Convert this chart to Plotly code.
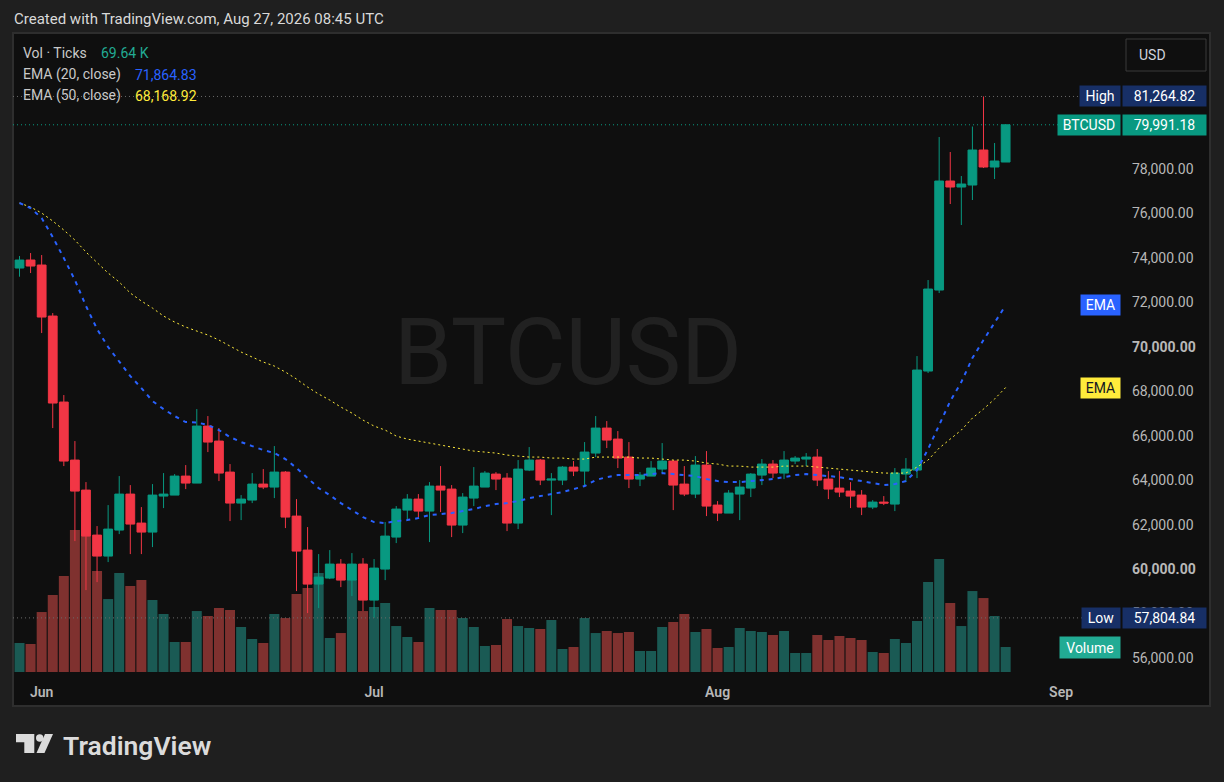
import pandas as pd
import plotly.graph_objects as go

# daily BTCUSD candles, 30 May - 27 Aug 2026
dates = pd.date_range("2026-05-30", periods=90, freq="D")

opens = [73545, 73905, 73680, 71385, 67515, 64905, 63555, 61530, 60585, 61755,
         63375, 62070, 61665, 63285, 63330, 64185, 63870, 66435, 65760, 64365,
         62970, 63105, 63825, 63690, 64365, 62385, 60855, 59325, 59595, 60225,
         59505, 60225, 58605, 60000, 61440, 62655, 63150, 62610, 63735, 63600,
         61980, 63195, 63690, 64275, 64095, 62070, 64455, 64905, 64005, 64005,
         64590, 64410, 65220, 66345, 65850, 65040, 64050, 64185, 64500, 64860,
         63825, 63375, 64680, 62880, 62520, 63375, 63645, 64230, 64725, 64320,
         64860, 64950, 65040, 64050, 63645, 63510, 63330, 62790, 63015, 62925,
         64275, 64455, 68910, 72555, 77460, 77190, 77280, 78855, 78090, 78315]
highs = [74085, 74220, 74130, 71520, 67830, 65760, 63915, 61935, 62880, 64185,
         63780, 62790, 63825, 64320, 64275, 64680, 67200, 66885, 66345, 64725,
         63330, 64320, 64500, 65535, 64410, 63150, 61890, 60675, 60855, 60450,
         60720, 60495, 60450, 62115, 62835, 63375, 63375, 63915, 64635, 63780,
         63420, 64590, 64410, 64365, 64320, 64905, 65490, 64950, 64320, 64635,
         64860, 65715, 66885, 66660, 66210, 65715, 64365, 64860, 65670, 64905,
         64635, 65085, 65310, 63060, 63555, 64005, 64320, 64950, 64905, 65310,
         65085, 65220, 65400, 64410, 64410, 63915, 63555, 63105, 63285, 64545,
         64995, 69585, 73005, 79440, 78765, 77685, 79912, 81264.82, 79170, 79991.18]
lows = [73155, 73320, 70620, 66345, 64635, 61260, 59055, 59415, 60315, 61575,
        60675, 60675, 60990, 62745, 63330, 63600, 63870, 65265, 63960, 62160,
        62205, 62970, 63600, 63195, 61845, 59010, 58020, 58245, 59550, 59190,
        58785, 58110, 57804.84, 59505, 61170, 62205, 62340, 61215, 62565, 61440,
        61620, 62835, 63690, 63555, 61710, 61800, 64410, 63780, 62430, 63780,
        64185, 63690, 65040, 65445, 64545, 63645, 63735, 64185, 64320, 62655,
        63285, 63195, 62385, 62160, 62520, 62205, 63240, 63780, 64095, 64050,
        64725, 64635, 63735, 63150, 63240, 62745, 62430, 62700, 62880, 62610,
        63915, 64095, 68820, 72420, 76425, 75480, 76605, 78045, 77550, 78315]
closes = [73905, 73635, 71340, 67470, 64860, 63510, 61485, 60585, 61800, 63375,
          62025, 61665, 63330, 63375, 64185, 63870, 66435, 65715, 64320, 62970,
          63150, 63825, 63690, 64365, 62340, 60810, 59325, 59640, 60225, 59505,
          60225, 58605, 60045, 61485, 62700, 63150, 62610, 63735, 63555, 61980,
          63240, 63735, 64320, 64050, 62070, 64500, 64905, 64005, 64050, 64590,
          64410, 65265, 66345, 65805, 64995, 64050, 64230, 64545, 64860, 63780,
          63375, 64680, 62835, 62520, 63420, 63690, 64275, 64725, 64320, 64905,
          64995, 65040, 64005, 63600, 63465, 63285, 62790, 63015, 62970, 64320,
          64500, 68955, 72600, 77460, 77190, 77325, 78855, 78090, 78360, 79991.18]

# tick volume, thousands
volumes = [80.8, 78.0, 167.1, 214.5, 267.4, 395.6, 445.7, 281.3, 203.3, 275.8,
           239.6, 256.3, 200.6, 161.6, 83.6, 83.6, 169.9, 156.0, 178.3, 172.7,
           125.4, 91.9, 80.8, 161.6, 150.4, 217.3, 234.0, 275.8, 94.7, 108.6,
           259.1, 169.9, 181.1, 192.2, 128.1, 97.5, 83.6, 178.3, 172.7, 172.7,
           150.4, 125.4, 72.4, 75.2, 147.6, 128.1, 122.6, 119.8, 144.9, 64.1,
           69.6, 150.4, 108.6, 114.2, 108.6, 111.4, 58.5, 58.5, 125.4, 139.3,
           161.6, 111.4, 119.8, 66.9, 69.6, 122.6, 114.2, 111.4, 103.1, 114.2,
           52.9, 52.9, 103.1, 89.1, 100.3, 94.7, 89.1, 55.7, 52.9, 91.9,
           80.8, 142.1, 250.7, 314.8, 192.2, 128.1, 225.6, 206.1, 156.0, 69.64]

ema20 = [76470, 76245, 75795, 74940, 73995, 73005, 71835, 70800, 69990, 69315,
         68685, 68145, 67560, 67200, 66885, 66615, 66600, 66480, 66255, 65940,
         65715, 65535, 65355, 65220, 64950, 64545, 64095, 63645, 63330, 62970,
         62655, 62340, 62115, 62070, 62160, 62205, 62295, 62430, 62475, 62520,
         62610, 62700, 62835, 62925, 62970, 63060, 63195, 63285, 63375, 63465,
         63600, 63735, 64005, 64140, 64230, 64230, 64230, 64275, 64320, 64275,
         64230, 64185, 64050, 63960, 63915, 63915, 63960, 64005, 64050, 64140,
         64230, 64275, 64230, 64185, 64140, 64050, 63960, 63870, 63780, 63825,
         63960, 64455, 65400, 66480, 67560, 68415, 69495, 70305, 71115, 71864.83]
ema50 = [76470, 76290, 76020, 75660, 75255, 74805, 74265, 73770, 73320, 72915,
         72420, 72060, 71745, 71385, 71115, 70890, 70710, 70530, 70305, 70035,
         69765, 69540, 69315, 69135, 68865, 68550, 68190, 67875, 67605, 67290,
         67020, 66705, 66435, 66255, 65985, 65850, 65760, 65670, 65580, 65490,
         65400, 65310, 65265, 65220, 65130, 65085, 65040, 65040, 64995, 64995,
         64950, 64950, 65040, 65040, 65040, 65040, 64995, 64995, 64950, 64905,
         64905, 64860, 64770, 64725, 64635, 64635, 64590, 64590, 64590, 64635,
         64635, 64635, 64590, 64545, 64500, 64455, 64410, 64365, 64320, 64320,
         64320, 64590, 64905, 65445, 65850, 66255, 66795, 67200, 67650, 68168.92]

price_ticks = [56000, 58000, 60000, 62000, 64000, 66000, 68000, 70000, 72000, 74000, 76000, 78000]
month_ticks = ["2026-06-01", "2026-07-01", "2026-08-01", "2026-09-01"]
month_labels = ["Jun", "Jul", "Aug", "Sep"]

UP = "#089981"
DOWN = "#f23645"
BLUE = "#2962ff"
YELLOW = "#ffeb3b"
NAVY = "#172f66"
FONT = "Roboto"

# plot area in screen pixels
PL, PR, PT, PB = 13, 1120, 35, 672


def px(x):
    return (x - PL) / (PR - PL)


def py(y):
    return (PB - y) / (PB - PT)


vol_colors = ["rgba(38,166,154,0.5)" if c >= o else "rgba(239,83,80,0.5)" for o, c in zip(opens, closes)]

fig = go.Figure()

fig.add_trace(go.Bar(
    x=dates, y=volumes, marker_color=vol_colors, marker_line_width=0,
    yaxis="y", hoverinfo="skip", showlegend=False
))

fig.add_trace(go.Candlestick(
    x=dates, open=opens, high=highs, low=lows, close=closes,
    increasing=dict(line=dict(color=UP, width=1), fillcolor=UP),
    decreasing=dict(line=dict(color=DOWN, width=1), fillcolor=DOWN),
    yaxis="y2", showlegend=False
))

fig.add_trace(go.Scatter(
    x=dates, y=ema50, mode="lines", yaxis="y2", showlegend=False,
    line=dict(color=YELLOW, width=1, dash="2px,3px")
))
fig.add_trace(go.Scatter(
    x=dates, y=ema20, mode="lines", yaxis="y2", showlegend=False,
    line=dict(color=BLUE, width=2, dash="4px,5px")
))

hi = max(highs)
lo = min(lows)
last = closes[-1]

shapes = [
    # chart pane
    dict(type="rect", xref="paper", yref="paper", x0=px(13), x1=px(1210), y0=py(706), y1=py(33),
         fillcolor="#0f0f0f", line=dict(color="#2e2e2e", width=2), layer="below"),
    # high / low / last price lines
    dict(type="line", xref="paper", yref="y2", x0=0, x1=px(1081), y0=hi, y1=hi,
         line=dict(color="#6a6a6a", width=1, dash="1px,3px")),
    dict(type="line", xref="paper", yref="y2", x0=0, x1=px(1083), y0=lo, y1=lo,
         line=dict(color="#6a6a6a", width=1, dash="1px,3px")),
    dict(type="line", xref="paper", yref="y2", x0=0, x1=px(1058), y0=last, y1=last,
         line=dict(color=UP, width=1, dash="1px,3px")),
    # USD button
    dict(type="rect", xref="paper", yref="paper", x0=px(1126), x1=px(1206), y0=py(71), y1=py(39),
         fillcolor="#0f0f0f", line=dict(color="#3a3a3a", width=1)),
    # TradingView logo mark
    dict(type="path", xref="paper", yref="paper",
         path=f"M {px(16)},{py(734)} L {px(34.3)},{py(734)} L {px(34.3)},{py(753)} L {px(24.3)},{py(753)} "
              f"L {px(24.3)},{py(742.3)} L {px(16)},{py(742.3)} Z",
         fillcolor="#dbdbdb", line=dict(width=0)),
    dict(type="circle", xref="paper", yref="paper", x0=px(36), x1=px(43.4), y0=py(741.7), y1=py(734.3),
         fillcolor="#dbdbdb", line=dict(width=0)),
    dict(type="path", xref="paper", yref="paper",
         path=f"M {px(45)},{py(734)} L {px(53)},{py(734)} L {px(44.5)},{py(753)} L {px(36.5)},{py(753)} Z",
         fillcolor="#dbdbdb", line=dict(width=0)),
]

ann = []


def text(x, y, s, size=14, color="#d1d4dc", anchor="left", weight=None):
    ann.append(dict(x=px(x), y=py(y), xref="paper", yref="paper",
                    text=s, showarrow=False, xanchor=anchor, yanchor="middle",
                    font=dict(family=FONT, size=size, color=color, weight=weight)))


def tag(x_edge, w, y, s, bg, color="#ffffff", anchor="right"):
    ann.append(dict(x=px(x_edge), y=y, xref="paper", yref="y2", text=s, showarrow=False,
                    xanchor=anchor, yanchor="middle", bgcolor=bg, width=w, height=20,
                    borderpad=0, align="center",
                    font=dict(family=FONT, size=14, color=color)))


text(12, 19, "Created with TradingView.com, Aug 27, 2026 08:45 UTC", size=15, color="#d9d9d9")
text(21, 53, "Vol · Ticks", color="#c9c9c9")
text(99, 53, f"{volumes[-1]:.2f} K", color="#22ab94")
text(21, 75, "EMA (20, close)", color="#c9c9c9")
text(133, 75, f"{ema20[-1]:,.2f}", color=BLUE)
text(21, 96, "EMA (50, close)", color="#c9c9c9")
text(133, 96, f"{ema50[-1]:,.2f}", color=YELLOW)

# watermark
text(568, 352, "BTCUSD", size=93, color="rgba(255,255,255,0.08)", anchor="center")

text(1137, 55, "USD", size=14, color="#d1d4dc")

tag(1120.5, 40, hi, "High", NAVY)
tag(1122, 83, hi, f"{hi:,.2f}", NAVY, anchor="left")
tag(1120.5, 62, last, "BTCUSD", UP)
tag(1122, 83, last, f"{last:,.2f}", UP, anchor="left")
tag(1120.5, 39, ema20[-1], "EMA", BLUE)
tag(1120.5, 39, ema50[-1], "EMA", YELLOW, color="#131722")
tag(1120.5, 38, lo, "Low", NAVY)
tag(1122, 83, lo, f"{lo:,.2f}", NAVY, anchor="left")
ann.append(dict(x=px(1120.5), y=py(647.5), xref="paper", yref="paper", text="Volume", showarrow=False,
                xanchor="right", yanchor="middle", bgcolor="#22ab94", width=60, height=21, borderpad=0,
                font=dict(family=FONT, size=14, color="#ffffff")))

text(61, 745, "TradingView", size=26.5, color="#dbdbdb", weight=600)

tick_text = [f"<b>{v:,.2f}</b>" if v % 10000 == 0 else f"{v:,.2f}" for v in price_ticks]

fig.update_layout(
    width=1224, height=782,
    margin=dict(l=PL, r=1224 - PR, t=PT, b=782 - PB),
    paper_bgcolor="#1f1f1f", plot_bgcolor="rgba(0,0,0,0)",
    boxgap=0.12, boxgroupgap=0.1, bargap=0.1,
    hovermode=False, showlegend=False,
    font=dict(family=FONT, color="#b8b8b8", size=14),
    xaxis=dict(type="date", range=["2026-05-29 09:55", "2026-09-06 07:41"],
               tickvals=month_ticks, ticktext=month_labels, ticks="", ticklabelstandoff=10,
               tickfont=dict(family=FONT, size=14, color="#b8b8b8", weight=600),
               showgrid=False, zeroline=False, showline=False, rangeslider=dict(visible=False),
               fixedrange=True),
    yaxis=dict(range=[0, 1775], visible=False, showgrid=False, zeroline=False, fixedrange=True),
    yaxis2=dict(overlaying="y", side="right", anchor="x", range=[55370, 84030],
                tickvals=price_ticks, ticktext=tick_text, ticks="", ticklabelstandoff=11,
                tickfont=dict(family=FONT, size=14, color="#b8b8b8"),
                showgrid=False, zeroline=False, showline=False, fixedrange=True),
    shapes=shapes, annotations=ann,
)

fig.write_html("out.html", config={"displayModeBar": False},
               post_script="document.body.style.margin='0';document.body.style.overflow='hidden';")
